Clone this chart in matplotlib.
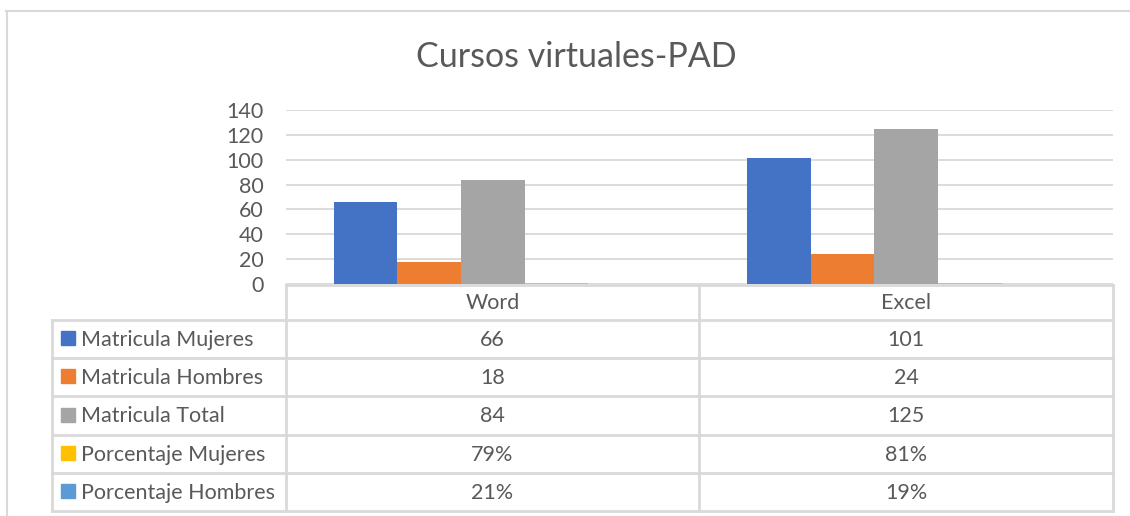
import matplotlib
matplotlib.use("Agg")
import matplotlib.pyplot as plt
from matplotlib.lines import Line2D
from matplotlib.patches import Rectangle

plt.rcParams['font.family'] = ['Lato', 'DejaVu Sans']

categories = ['Word', 'Excel']
series_names = ['Matricula Mujeres', 'Matricula Hombres', 'Matricula Total',
                'Porcentaje Mujeres', 'Porcentaje Hombres']
matricula_mujeres = [66, 101]
matricula_hombres = [18, 24]
matricula_total = [84, 125]
porcentaje_mujeres = [0.79, 0.81]
porcentaje_hombres = [0.21, 0.19]
series_values = [matricula_mujeres, matricula_hombres, matricula_total,
                 porcentaje_mujeres, porcentaje_hombres]
is_percent = [False, False, False, True, True]
colors = ['#4472C4', '#ED7D31', '#A5A5A5', '#FFC000', '#5B9BD5']
y_ticks = [0, 20, 40, 60, 80, 100, 120, 140]

W, H = 1130, 516
text_color = '#595959'
grid_color = '#d9d9d9'


def fx(px):
    return px / W


def fy(py):
    return 1 - py / H


fig = plt.figure(figsize=(W / 100, H / 100), dpi=100)

# outer chart border (top and left only visible)
fig.add_artist(Line2D([fx(6), fx(1130)], [fy(11), fy(11)], color=grid_color, lw=1.5))
fig.add_artist(Line2D([fx(6.5), fx(6.5)], [fy(11), fy(516)], color=grid_color, lw=1.5))

fig.text(fx(576), fy(57), 'Cursos virtuales-PAD', ha='center', va='center',
         fontsize=24.5, color=text_color)

# plot area
left, right, top, bottom = 286, 1113, 110, 284
ax = fig.add_axes([fx(left), fy(bottom), fx(right) - fx(left), (bottom - top) / H])
bar_w = 0.154
n = len(series_values)
for i, vals in enumerate(series_values):
    xs = [c + (i - (n - 1) / 2) * bar_w for c in range(len(categories))]
    ax.bar(xs, vals, width=bar_w, color=colors[i], zorder=3)
ax.set_xlim(-0.5, len(categories) - 0.5)
ax.set_ylim(0, 140)
ax.set_yticks(y_ticks)
ax.set_yticklabels([str(t) for t in y_ticks], fontsize=15.5, color=text_color)
ax.tick_params(axis='y', length=0, pad=16)
ax.set_xticks([])
ax.grid(axis='y', color=grid_color, lw=1.3, zorder=0)
for s in ax.spines.values():
    s.set_visible(False)

# data table
col_edges = [286, 699, 1113]
row_edges = [320, 358, 396, 435, 473, 511]
leg_left = 52
lw = 2
for x in col_edges:
    fig.add_artist(Line2D([fx(x), fx(x)], [fy(285), fy(511)], color=grid_color, lw=lw))
fig.add_artist(Line2D([fx(leg_left), fx(leg_left)], [fy(320), fy(511)], color=grid_color, lw=lw))
fig.add_artist(Line2D([fx(286), fx(1113)], [fy(285), fy(285)], color=grid_color, lw=lw))
for y in row_edges:
    fig.add_artist(Line2D([fx(leg_left), fx(1113)], [fy(y), fy(y)], color=grid_color, lw=lw))

for j, cat in enumerate(categories):
    cx = (col_edges[j] + col_edges[j + 1]) / 2
    fig.text(fx(cx), fy(303), cat, ha='center', va='center', fontsize=15.5, color=text_color)

for i, name in enumerate(series_names):
    cy = (row_edges[i] + row_edges[i + 1]) / 2
    fig.add_artist(Rectangle((fx(61), fy(cy + 6)), 14 / W, 14 / H,
                             color=colors[i], transform=fig.transFigure))
    fig.text(fx(81), fy(cy + 1), name, ha='left', va='center', fontsize=15.5, color=text_color)
    for j, v in enumerate(series_values[i]):
        cx = (col_edges[j] + col_edges[j + 1]) / 2
        label = f"{round(v * 100)}%" if is_percent[i] else str(v)
        fig.text(fx(cx), fy(cy + 1), label, ha='center', va='center', fontsize=15.5, color=text_color)

fig.savefig('out.png', dpi=100)
